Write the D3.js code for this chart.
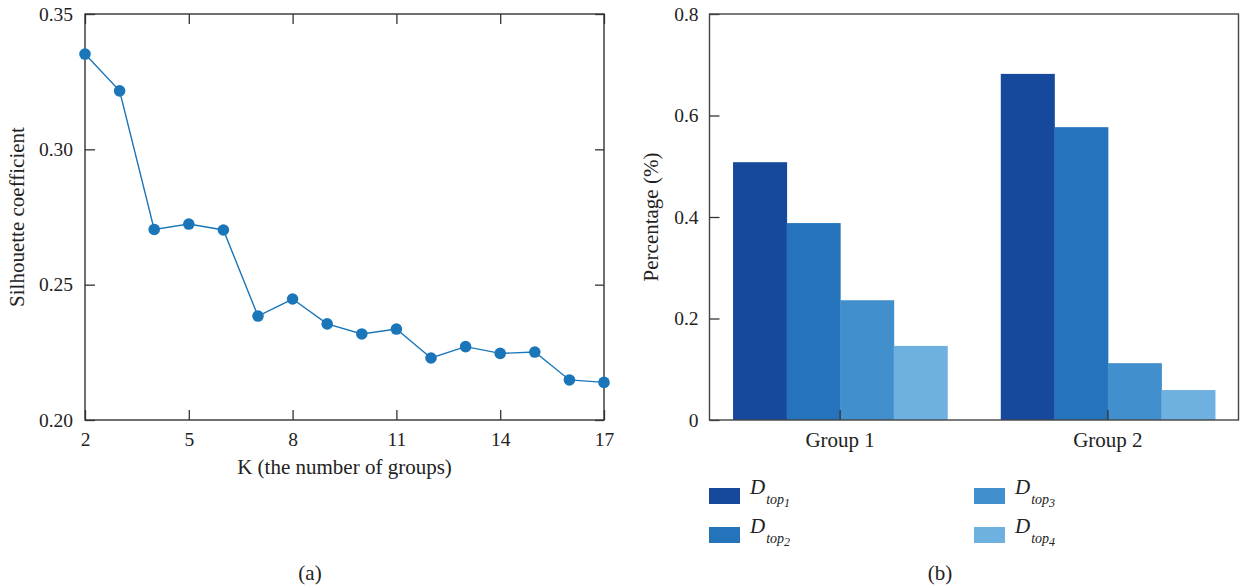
<!DOCTYPE html>
<html><head><meta charset="utf-8">
<script src="https://cdn.jsdelivr.net/npm/d3@7"></script>
<style>
body{margin:0;background:#fff;}
svg text{font-family:"Liberation Serif","Times New Roman",serif;fill:#222;}
</style></head>
<body><svg id="c" width="1240" height="588"></svg>
<script>
// ---- data: panel (a)
const kValues = [2,3,4,5,6,7,8,9,10,11,12,13,14,15,16,17];
const silhouette = [0.3352,0.3216,0.2704,0.2724,0.2702,0.2384,0.2447,0.2355,0.2318,0.2336,0.2229,0.2271,0.2246,0.2251,0.2148,0.2139];
const xTicksA = [2,5,8,11,14,17];
const yTicksA = [0.20,0.25,0.30,0.35];
// ---- data: panel (b)
const groups = ["Group 1","Group 2"];
const seriesNames = ["1","2","3","4"];
const dtop1 = [0.508,0.682];
const dtop2 = [0.388,0.577];
const dtop3 = [0.236,0.112];
const dtop4 = [0.146,0.059];
const yTicksB = [0,0.2,0.4,0.6,0.8];
const colors = ["#16499c","#2473bb","#428fcd","#6eb0e0"];

const svg = d3.select("#c");
const axisColor = "#333";
const tickFont = 19.5, titleFont = 21;

function styleAxis(g){
  g.select(".domain").remove();
  g.selectAll(".tick line").attr("stroke", axisColor).attr("stroke-width",1.3);
  g.selectAll(".tick text").attr("font-size",tickFont).attr("fill","#222")
   .style("font-family",'"Liberation Serif",serif');
}

// ================= Panel (a)
const A = {l:85, r:604, t:14, b:420};
const xA = d3.scaleLinear().domain([2,17]).range([A.l, A.r]);
const yA = d3.scaleLinear().domain([0.20,0.35]).range([A.b, A.t]);
const gA = svg.append("g");

gA.append("g").attr("transform",`translate(${A.l},0)`)
  .call(d3.axisLeft(yA).tickValues(yTicksA).tickFormat(d3.format(".2f")).tickSize(-10).tickPadding(12))
  .call(styleAxis);
gA.append("g").attr("transform",`translate(${A.r},0)`)
  .call(d3.axisRight(yA).tickValues(yTicksA).tickFormat("").tickSize(-9))
  .call(styleAxis);
gA.append("g").attr("transform",`translate(0,${A.b})`)
  .call(d3.axisBottom(xA).tickValues(xTicksA).tickFormat(d3.format("d")).tickSize(-10).tickPadding(12))
  .call(styleAxis);
gA.append("g").attr("transform",`translate(0,${A.t})`)
  .call(d3.axisTop(xA).tickValues(xTicksA).tickFormat("").tickSize(-10))
  .call(styleAxis);
gA.append("rect").attr("x",A.l).attr("y",A.t).attr("width",A.r-A.l).attr("height",A.b-A.t)
  .attr("fill","none").attr("stroke",axisColor).attr("stroke-width",1.4);

const ptsA = kValues.map((k,i)=>({k, v:silhouette[i]}));
gA.append("path").datum(ptsA)
  .attr("d", d3.line().x(d=>xA(d.k)).y(d=>yA(d.v)))
  .attr("fill","none").attr("stroke","#1a76b8").attr("stroke-width",1.4);
gA.selectAll("circle").data(ptsA).join("circle")
  .attr("cx",d=>xA(d.k)).attr("cy",d=>yA(d.v)).attr("r",5.8).attr("fill","#1a76b8");

gA.append("text").attr("transform",`translate(24,${(A.t+A.b)/2}) rotate(-90)`)
  .attr("text-anchor","middle").attr("font-size",titleFont).text("Silhouette coefficient");
gA.append("text").attr("x",(A.l+A.r)/2).attr("y",474)
  .attr("text-anchor","middle").attr("font-size",titleFont).text("K (the number of groups)");
gA.append("text").attr("x",310).attr("y",580)
  .attr("text-anchor","middle").attr("font-size",titleFont).text("(a)");

// ================= Panel (b)
const B = {l:709.5, r:1238.5, t:14, b:420};
const x0 = d3.scaleBand().domain(groups).range([B.l,B.r]).paddingInner(0.2).paddingOuter(0.088);
const x1 = d3.scaleBand().domain(seriesNames).range([0,x0.bandwidth()]);
const yB = d3.scaleLinear().domain([0,0.8]).range([B.b,B.t]);
const gB = svg.append("g");
const seriesVals = [dtop1,dtop2,dtop3,dtop4];

const barData = [];
groups.forEach((g,gi)=>seriesNames.forEach((s,si)=>barData.push({g,s,si,v:seriesVals[si][gi]})));
gB.selectAll("rect.bar").data(barData).join("rect").attr("class","bar")
  .attr("x",d=>x0(d.g)+x1(d.s)).attr("width",x1.bandwidth()+0.5)
  .attr("y",d=>yB(d.v)).attr("height",d=>yB(0)-yB(d.v))
  .attr("fill",d=>colors[d.si]);

gB.append("g").attr("transform",`translate(${B.l},0)`)
  .call(d3.axisLeft(yB).tickValues(yTicksB).tickFormat(d=>d===0?"0":d3.format(".1f")(d)).tickSize(-10).tickPadding(11))
  .call(styleAxis);
gB.append("g").attr("transform",`translate(0,${B.b})`)
  .call(d3.axisBottom(x0).tickSize(-10).tickPadding(12))
  .call(styleAxis)
  .call(g=>g.selectAll(".tick text").attr("font-size",21));
gB.append("rect").attr("x",B.l).attr("y",B.t).attr("width",B.r-B.l).attr("height",B.b-B.t)
  .attr("fill","none").attr("stroke","#444").attr("stroke-width",1.4);

gB.append("text").attr("transform",`translate(658,${(B.t+B.b)/2}) rotate(-90)`)
  .attr("text-anchor","middle").attr("font-size",titleFont).text("Percentage (%)");

// legend
const legPos = [[709,488],[709,527],[974,488],[974,527]];
seriesNames.forEach((s,i)=>{
  const [lx,ly] = legPos[i];
  gB.append("rect").attr("x",lx).attr("y",ly).attr("width",31).attr("height",16).attr("fill",colors[i]);
  const t = gB.append("text").attr("x",lx+41).attr("y",ly+6).attr("font-style","italic").attr("font-size",21);
  t.append("tspan").text("D");
  t.append("tspan").attr("font-size",14).attr("dx",1).attr("dy",9.5).text("top");
  t.append("tspan").attr("font-size",12).attr("dy",3).text(s);
});

gB.append("text").attr("x",940).attr("y",580)
  .attr("text-anchor","middle").attr("font-size",titleFont).text("(b)");
</script></body></html>
